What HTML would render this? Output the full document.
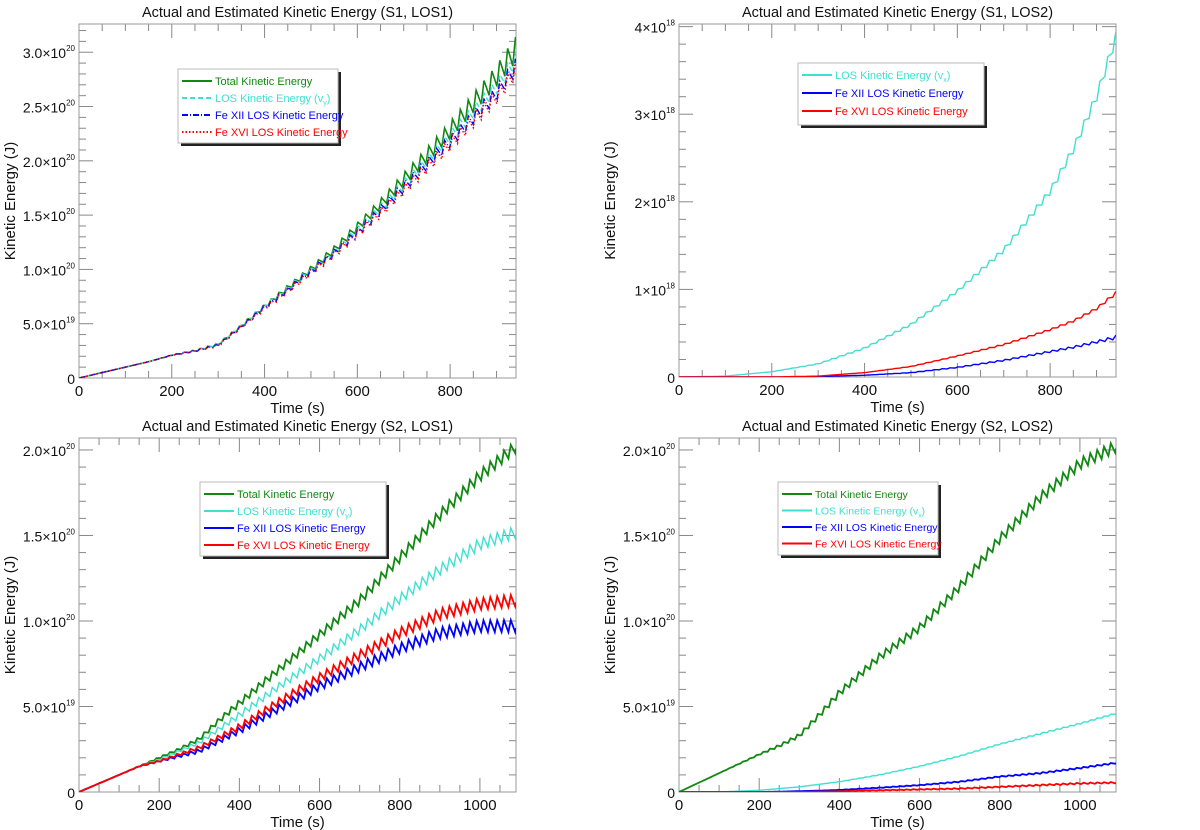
<!DOCTYPE html>
<html><head><meta charset="utf-8"><style>
body{margin:0;background:#fff}
svg{display:block;font-family:"Liberation Sans",sans-serif}
</style></head><body>
<svg id="fig" width="1200" height="830" xmlns="http://www.w3.org/2000/svg"></svg>
<script>
// ---- data (values in units of each panel's scale) ----
// Panel A: S1, LOS1 (1e20 J)
const tA = [0,50,100,150,200,250,300,350,400,450,500,550,600,650,700,750,800,850,900,940];
const aTotal = [0,0.05,0.10,0.15,0.21,0.25,0.31,0.48,0.66,0.83,1.00,1.18,1.39,1.60,1.83,2.05,2.28,2.53,2.78,3.02];
const aLos   = [0,0.05,0.10,0.15,0.21,0.25,0.31,0.48,0.66,0.82,0.99,1.16,1.36,1.56,1.78,2.00,2.22,2.45,2.68,2.92];
const aFe12  = [0,0.05,0.10,0.15,0.21,0.25,0.30,0.47,0.65,0.81,0.98,1.15,1.34,1.54,1.76,1.97,2.18,2.40,2.62,2.86];
const aFe16  = [0,0.05,0.10,0.15,0.21,0.25,0.30,0.47,0.64,0.80,0.97,1.14,1.33,1.52,1.73,1.94,2.15,2.37,2.59,2.82];
const aAmpT  = [0,0,0,0,0.003,0.008,0.012,0.015,0.02,0.025,0.03,0.035,0.04,0.05,0.06,0.07,0.08,0.09,0.10,0.12];
const aAmpE  = [0,0,0,0,0.003,0.008,0.012,0.015,0.02,0.025,0.03,0.035,0.04,0.045,0.05,0.055,0.06,0.065,0.07,0.08];
// Panel B: S1, LOS2 (1e18 J)
const tB = [0,100,200,300,400,500,600,700,800,850,900,940];
const bLos  = [0,0.01,0.06,0.15,0.33,0.60,0.98,1.45,2.12,2.60,3.20,3.85];
const bFe12 = [0,0,0,0.005,0.02,0.05,0.11,0.19,0.29,0.34,0.40,0.45];
const bFe16 = [0,0,0,0.01,0.05,0.12,0.24,0.37,0.54,0.64,0.78,0.95];
const bAmpL = [0,0,0,0.005,0.01,0.015,0.02,0.03,0.04,0.05,0.06,0.07];
const bAmpF = [0,0,0,0,0,0.003,0.005,0.008,0.01,0.012,0.015,0.02];
// Panel C: S2, LOS1 (1e20 J)
const tC = [0,100,150,200,250,300,350,400,500,600,700,800,900,1000,1090];
const cTotal = [0,0.10,0.15,0.20,0.25,0.31,0.42,0.52,0.72,0.92,1.12,1.37,1.62,1.85,2.02];
const cLos   = [0,0.10,0.15,0.19,0.24,0.29,0.37,0.45,0.62,0.78,0.95,1.13,1.30,1.45,1.52];
const cFe16  = [0,0.10,0.15,0.18,0.22,0.26,0.32,0.38,0.53,0.67,0.80,0.93,1.04,1.10,1.12];
const cFe12  = [0,0.10,0.15,0.18,0.21,0.24,0.30,0.36,0.49,0.62,0.73,0.84,0.93,0.97,0.97];
const cAmp   = [0,0,0.002,0.005,0.008,0.012,0.015,0.02,0.022,0.025,0.028,0.03,0.032,0.034,0.035];
// Panel D: S2, LOS2 (1e20 J)
const tD = [0,100,200,250,300,350,400,500,600,700,800,900,1000,1090];
const dTotal = [0,0.11,0.22,0.27,0.33,0.45,0.58,0.79,0.96,1.20,1.48,1.72,1.92,2.02];
const dLos   = [0,0,0.01,0.02,0.03,0.045,0.06,0.10,0.15,0.21,0.28,0.34,0.40,0.46];
const dFe12  = [0,0,0,0.002,0.005,0.008,0.012,0.025,0.04,0.06,0.09,0.11,0.14,0.17];
const dFe16  = [0,0,0,0,0,0.002,0.004,0.01,0.015,0.02,0.03,0.04,0.05,0.055];
const dAmp   = [0,0,0.004,0.008,0.012,0.016,0.02,0.022,0.024,0.026,0.028,0.03,0.032,0.034];
const dAmpS  = [0,0,0,0,0,0,0.001,0.002,0.002,0.003,0.003,0.004,0.004,0.004];
const oscPeriod = 17;

const NS="http://www.w3.org/2000/svg";
const svg=document.getElementById('fig');
function mk(tag,attrs,parent){const e=document.createElementNS(NS,tag);for(const k in attrs)e.setAttribute(k,attrs[k]);(parent||svg).appendChild(e);return e;}
function interp(xs,ys,x){if(x<=xs[0])return ys[0];for(let i=1;i<xs.length;i++){if(x<=xs[i]){const f=(x-xs[i-1])/(xs[i]-xs[i-1]);return ys[i-1]+f*(ys[i]-ys[i-1]);}}return ys[ys.length-1];}

function panel(cfg){
  const g=mk('g',{});
  
  
  const L=cfg.x0,R=cfg.x1,T=cfg.y0,B=cfg.y1;
  const sx=v=>L+(v-0)/(cfg.xmax)*(R-L);
  const sy=v=>B-(v)/(cfg.ymax)*(B-T);
  for(let v=0;v<=cfg.xmax+1e-6;v+=cfg.xminor){
    const maj=Math.abs(v/cfg.xmajor-Math.round(v/cfg.xmajor))<1e-6;
    const len=maj?14:7;
    mk('line',{x1:sx(v),x2:sx(v),y1:B,y2:B-len,stroke:'#888','stroke-width':1},g);
    mk('line',{x1:sx(v),x2:sx(v),y1:T,y2:T+len,stroke:'#888','stroke-width':1},g);
    if(maj){const t=mk('text',{x:sx(v),y:B+18,'text-anchor':'middle','font-size':15,fill:'#111'},g);t.textContent=String(Math.round(v));
      }
  }
  for(let v=0;v<=cfg.ymax+1e-9;v+=cfg.yminor){
    const maj=Math.abs(v/cfg.ymajor-Math.round(v/cfg.ymajor))<1e-6;
    const len=maj?14:7;
    mk('line',{x1:L,x2:L+len,y1:sy(v),y2:sy(v),stroke:'#888','stroke-width':1},g);
    mk('line',{x1:R,x2:R-len,y1:sy(v),y2:sy(v),stroke:'#888','stroke-width':1},g);
  }
  cfg.yticks.forEach(tk=>{
    const t=mk('text',{x:L-4,y:sy(tk.v)+6,'text-anchor':'end','font-size':14,fill:'#111'},g);
    
    if(tk.m){t.textContent=tk.m+'×10';const s=mk('tspan',{dy:-7,'font-size':8},t);s.textContent=tk.e;}
    else t.textContent='0';
  });
  mk('rect',{x:L,y:T,width:R-L,height:B-T,fill:'none',stroke:'#999','stroke-width':1},g);
  const clip='c'+cfg.name;
  const cp=mk('clipPath',{id:clip},g);mk('rect',{x:L,y:T,width:R-L,height:B-T},cp);
  cfg.series.forEach(s=>{
    let d='';
    for(let t=0;t<=cfg.xmax;t+=1){
      const base=interp(s.t,s.v,t), amp=interp(s.t,s.amp,t);
      const ph=(t%oscPeriod)/oscPeriod;
      const w=ph<0.35?(ph/0.35):(1-(ph-0.35)/0.65);
      const val=base+amp*(2*w-1);
      d+=(t?'L':'M')+sx(t).toFixed(1)+','+sy(val).toFixed(1);
    }
    const p=mk('path',{d:d,fill:'none',stroke:s.c,'stroke-width':s.w||1.4,'clip-path':'url(#'+clip+')'},g);
    if(s.dash)p.setAttribute('stroke-dasharray',s.dash);
    
    
  });
  const tt=mk('text',{x:(L+R)/2,y:T-7,'text-anchor':'middle','font-size':14.5,fill:'#111'},g);
  tt.textContent=cfg.title;
  
  const xt=mk('text',{x:(L+R)/2,y:B+35,'text-anchor':'middle','font-size':15,fill:'#111'},g);
  xt.textContent='Time (s)';
  
  const yt=mk('text',{x:0,y:0,'text-anchor':'middle','font-size':15,fill:'#111',transform:'translate('+(L-64)+','+((T+B)/2)+') rotate(-90)'},g);
  yt.textContent='Kinetic Energy (J)';
  
  const lg=cfg.legend;
  const lgG=mk('g',{},g);
  
  mk('rect',{x:lg.x+3,y:lg.y+3,width:lg.w,height:lg.h,fill:'#222'},lgG);
  mk('rect',{x:lg.x,y:lg.y,width:lg.w,height:lg.h,fill:'#fff',stroke:'#bbb'},lgG);
  cfg.series.forEach((s,i)=>{
    const yy=lg.y+12+i*lg.dy;
    const ln=mk('line',{x1:lg.x+4,x2:lg.x+34,y1:yy,y2:yy,stroke:s.c,'stroke-width':2},lgG);
    if(s.dash)ln.setAttribute('stroke-dasharray',s.dash);
    const tx=mk('text',{x:lg.x+37,y:yy+4,'font-size':lg.fs,fill:s.c},lgG);
    
    if(s.sub){tx.textContent=s.label+' (v';const sb=mk('tspan',{dy:3,'font-size':lg.fs-4},tx);sb.textContent=s.sub;const r=mk('tspan',{dy:-3},tx);r.textContent=')';}
    else tx.textContent=s.label;
  });
}

const G='#118811',C='#40e0d0',BL='#0000ff',RD='#ff0000';
panel({name:'panel-s1-los1',x0:79,x1:516,y0:24,y1:378,xmax:942,ymax:3.26,xminor:50,xmajor:200,yminor:0.1,ymajor:0.5,
  title:'Actual and Estimated Kinetic Energy (S1, LOS1)',
  yticks:[{v:0},{v:0.5,m:'5.0',e:19},{v:1,m:'1.0',e:20},{v:1.5,m:'1.5',e:20},{v:2,m:'2.0',e:20},{v:2.5,m:'2.5',e:20},{v:3,m:'3.0',e:20}],
  legend:{x:178,y:69,w:160,h:74,dy:17,fs:11},
  series:[
    {key:'total',label:'Total Kinetic Energy',c:G,t:tA,v:aTotal,amp:aAmpT,w:1.6},
    {key:'los',label:'LOS Kinetic Energy',sub:'y',c:C,t:tA,v:aLos,amp:aAmpE,dash:'5,3'},
    {key:'fe12',label:'Fe XII LOS Kinetic Energy',c:BL,t:tA,v:aFe12,amp:aAmpE,dash:'6,2,1,2'},
    {key:'fe16',label:'Fe XVI LOS Kinetic Energy',c:RD,t:tA,v:aFe16,amp:aAmpE,dash:'1.5,2'}]});
panel({name:'panel-s1-los2',x0:679,x1:1116,y0:24,y1:377,xmax:942,ymax:4.03,xminor:50,xmajor:200,yminor:0.2,ymajor:1,
  title:'Actual and Estimated Kinetic Energy (S1, LOS2)',
  yticks:[{v:0},{v:1,m:'1',e:18},{v:2,m:'2',e:18},{v:3,m:'3',e:18},{v:4,m:'4',e:18}],
  legend:{x:798,y:63,w:186,h:62,dy:18,fs:11},
  series:[
    {key:'los',label:'LOS Kinetic Energy',sub:'x',c:C,t:tB,v:bLos,amp:bAmpL},
    {key:'fe12',label:'Fe XII LOS Kinetic Energy',c:BL,t:tB,v:bFe12,amp:bAmpF},
    {key:'fe16',label:'Fe XVI LOS Kinetic Energy',c:RD,t:tB,v:bFe16,amp:bAmpF}]});
panel({name:'panel-s2-los1',x0:79,x1:516,y0:438,y1:792,xmax:1090,ymax:2.07,xminor:50,xmajor:200,yminor:0.1,ymajor:0.5,
  title:'Actual and Estimated Kinetic Energy (S2, LOS1)',
  yticks:[{v:0},{v:0.5,m:'5.0',e:19},{v:1,m:'1.0',e:20},{v:1.5,m:'1.5',e:20},{v:2,m:'2.0',e:20}],
  legend:{x:200,y:482,w:186,h:74,dy:17,fs:11},
  series:[
    {key:'total',label:'Total Kinetic Energy',c:G,t:tC,v:cTotal,amp:cAmp,w:1.8},
    {key:'los',label:'LOS Kinetic Energy',sub:'y',c:C,t:tC,v:cLos,amp:cAmp},
    {key:'fe12',label:'Fe XII LOS Kinetic Energy',c:BL,t:tC,v:cFe12,amp:cAmp,w:1.8},
    {key:'fe16',label:'Fe XVI LOS Kinetic Energy',c:RD,t:tC,v:cFe16,amp:cAmp,w:1.8}]});
panel({name:'panel-s2-los2',x0:679,x1:1116,y0:438,y1:792,xmax:1090,ymax:2.07,xminor:50,xmajor:200,yminor:0.1,ymajor:0.5,
  title:'Actual and Estimated Kinetic Energy (S2, LOS2)',
  yticks:[{v:0},{v:0.5,m:'5.0',e:19},{v:1,m:'1.0',e:20},{v:1.5,m:'1.5',e:20},{v:2,m:'2.0',e:20}],
  legend:{x:778,y:482,w:160,h:73,dy:16.5,fs:10.5},
  series:[
    {key:'total',label:'Total Kinetic Energy',c:G,t:tD,v:dTotal,amp:dAmp,w:1.8},
    {key:'los',label:'LOS Kinetic Energy',sub:'x',c:C,t:tD,v:dLos,amp:dAmpS},
    {key:'fe12',label:'Fe XII LOS Kinetic Energy',c:BL,t:tD,v:dFe12,amp:dAmpS,w:1.8},
    {key:'fe16',label:'Fe XVI LOS Kinetic Energy',c:RD,t:tD,v:dFe16,amp:dAmpS,w:1.8}]});
</script>
</body></html>
